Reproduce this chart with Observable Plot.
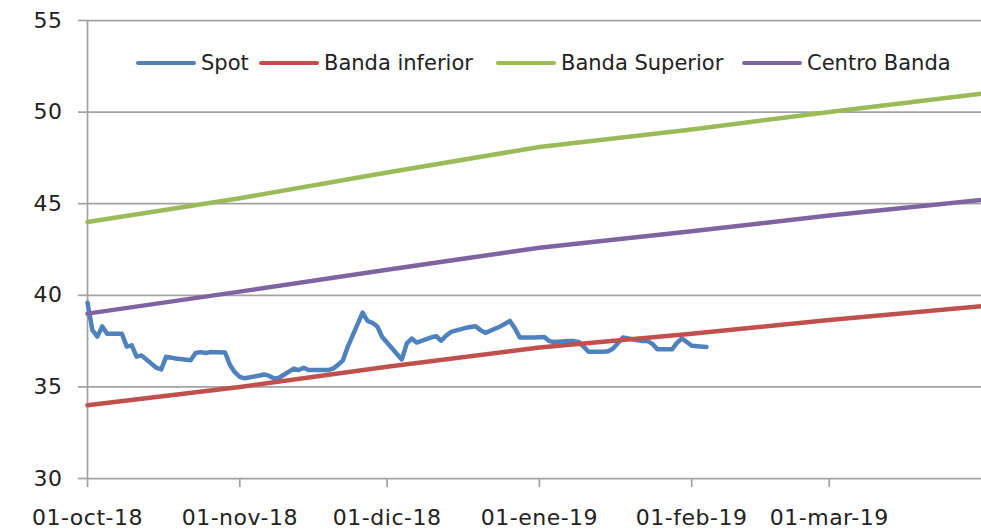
<!DOCTYPE html>
<html>
<head>
<meta charset="utf-8">
<script src="https://cdn.jsdelivr.net/npm/d3@7"></script>
<script src="https://cdn.jsdelivr.net/npm/@observablehq/plot@0.6"></script>
<style>
  html, body { margin: 0; padding: 0; background: #fff; }
  #wrap { position: relative; width: 981px; height: 529px; font-family: "DejaVu Sans", sans-serif; }
  .ch text { letter-spacing: 0.5px; }
  .leg { position: absolute; top: 50px; height: 26px; display: flex; align-items: center; font-size: 21px; color: #222; white-space: nowrap; }
  .leg .sw { width: 60px; height: 4.5px; border-radius: 2px; margin-right: 5px; }
</style>
</head>
<body>
<div id="wrap"><div id="chart"></div></div>
<script>
// ---- data ----
const seriesNames = ["Spot", "Banda inferior", "Banda Superior", "Centro Banda"];
const seriesColors = ["#4F81BD", "#C0504D", "#9BBB59", "#8064A2"];

const spotDates = [
  "2018-10-01","2018-10-02","2018-10-03","2018-10-04","2018-10-05",
  "2018-10-08","2018-10-09","2018-10-10","2018-10-11","2018-10-12",
  "2018-10-15","2018-10-16","2018-10-17","2018-10-18","2018-10-19",
  "2018-10-22","2018-10-23","2018-10-24","2018-10-25","2018-10-26",
  "2018-10-29","2018-10-30","2018-10-31","2018-11-01","2018-11-02",
  "2018-11-05","2018-11-06","2018-11-07","2018-11-08","2018-11-09",
  "2018-11-12","2018-11-13","2018-11-14","2018-11-15","2018-11-16",
  "2018-11-19","2018-11-20","2018-11-21","2018-11-22","2018-11-23",
  "2018-11-26","2018-11-27","2018-11-28","2018-11-29","2018-11-30",
  "2018-12-03","2018-12-04","2018-12-05","2018-12-06","2018-12-07",
  "2018-12-10","2018-12-11","2018-12-12","2018-12-13","2018-12-14",
  "2018-12-17","2018-12-18","2018-12-19","2018-12-20","2018-12-21",
  "2018-12-24","2018-12-26","2018-12-27","2018-12-28","2018-12-31",
  "2019-01-02","2019-01-03","2019-01-04","2019-01-07","2019-01-08",
  "2019-01-09","2019-01-10","2019-01-11","2019-01-14","2019-01-15",
  "2019-01-16","2019-01-17","2019-01-18","2019-01-21","2019-01-22",
  "2019-01-23","2019-01-24","2019-01-25","2019-01-28","2019-01-29",
  "2019-01-30","2019-01-31","2019-02-01","2019-02-04"
];
const spotValues = [
  39.6, 38.1, 37.75, 38.3, 37.9,
  37.9, 37.2, 37.27, 36.65, 36.72,
  36.05, 35.95, 36.64, 36.6, 36.55,
  36.45, 36.85, 36.9, 36.85, 36.9,
  36.88, 36.2, 35.8, 35.55, 35.47,
  35.62, 35.68, 35.6, 35.46, 35.5,
  36.0, 35.92, 36.05, 35.92, 35.92,
  35.92, 36.0, 36.2, 36.45, 37.2,
  39.05, 38.6, 38.5, 38.3, 37.72,
  36.8, 36.5, 37.38, 37.64, 37.42,
  37.7, 37.77, 37.52, 37.8, 38.0,
  38.22, 38.27, 38.31, 38.1, 37.95,
  38.3, 38.6, 38.2, 37.7, 37.7,
  37.72, 37.5, 37.45, 37.5, 37.5,
  37.45, 37.2, 36.92, 36.92, 36.95,
  37.1, 37.4, 37.7, 37.55, 37.5,
  37.5, 37.35, 37.05, 37.05, 37.4,
  37.64, 37.45, 37.25, 37.18
];

const bandDates = ["2018-10-01","2018-11-01","2018-12-01","2019-01-01","2019-02-01","2019-03-01","2019-04-01"];
const bandaInferior = [34.0, 35.0, 36.1, 37.15, 37.9, 38.65, 39.4];
const bandaSuperior = [44.0, 45.3, 46.7, 48.1, 49.05, 50.0, 51.0];
const centroBanda   = [39.0, 40.2, 41.4, 42.6, 43.5, 44.35, 45.2];

const xDomain = ["2018-10-01", "2019-04-01"];
const xTickDates = ["2018-10-01","2018-11-01","2018-12-01","2019-01-01","2019-02-01","2019-03-01"];
const xTickLabels = ["01-oct-18","01-nov-18","01-dic-18","01-ene-19","01-feb-19","01-mar-19"];
const yDomain = [30, 55];
const yTicks = [30, 35, 40, 45, 50, 55];
const yGrid = [35, 40, 45, 50, 55];

// ---- build ----
const parse = s => new Date(s + "T00:00:00Z");
const rows = [];
spotDates.forEach((d, i) => rows.push({series: seriesNames[0], date: parse(d), value: spotValues[i]}));
[bandaInferior, bandaSuperior, centroBanda].forEach((arr, k) => {
  bandDates.forEach((d, i) => rows.push({series: seriesNames[k + 1], date: parse(d), value: arr[i]}));
});
const xTicks = xTickDates.map(parse);
const gridColor = "#a3a3a3";

const chart = Plot.plot({
  width: 981,
  height: 529,
  marginLeft: 87,
  marginRight: 0,
  marginTop: 20,
  marginBottom: 51,
  className: "ch",
  style: {fontFamily: "DejaVu Sans, sans-serif", fontSize: "22px", color: "#222", background: "#fff", overflow: "visible"},
  x: {type: "utc", domain: xDomain.map(parse), label: null},
  y: {domain: yDomain, label: null},
  color: {domain: seriesNames, range: seriesColors},
  marks: [
    Plot.ruleY(yGrid, {stroke: gridColor, strokeWidth: 1.75}),
    Plot.ruleY([yDomain[0]], {stroke: gridColor, strokeWidth: 1.75}),
    Plot.ruleX([xTicks[0]], {y1: yDomain[0], y2: yDomain[1], stroke: gridColor, strokeWidth: 1.75}),
    Plot.axisY({ticks: yTicks, label: null, tickSize: 9, tickPadding: 16, stroke: gridColor, strokeWidth: 1.75, fill: "#222", fontSize: 22, tickFormat: d => String(d)}),
    Plot.axisX({ticks: xTicks, label: null, tickSize: 9, tickPadding: 22, stroke: gridColor, strokeWidth: 1.75, fill: "#222", fontSize: 22,
      tickFormat: d => xTickLabels[xTicks.findIndex(t => +t === +d)]}),
    ...seriesNames.map(name => Plot.line(rows.filter(r => r.series === name), {
      x: "date", y: "value", stroke: "series", strokeWidth: 4.5, strokeLinejoin: "round", strokeLinecap: "round"
    }))
  ]
});
const wrap = document.getElementById("wrap");
document.getElementById("chart").appendChild(chart);

// legend (inside plot area, top)
const legendLefts = [136, 259, 496, 742];
seriesNames.forEach((name, i) => {
  const item = document.createElement("div");
  item.className = "leg";
  item.style.left = legendLefts[i] + "px";
  const sw = document.createElement("div");
  sw.className = "sw";
  sw.style.background = seriesColors[i];
  const tx = document.createElement("span");
  tx.textContent = name;
  item.appendChild(sw);
  item.appendChild(tx);
  wrap.appendChild(item);
});
</script>
</body>
</html>
